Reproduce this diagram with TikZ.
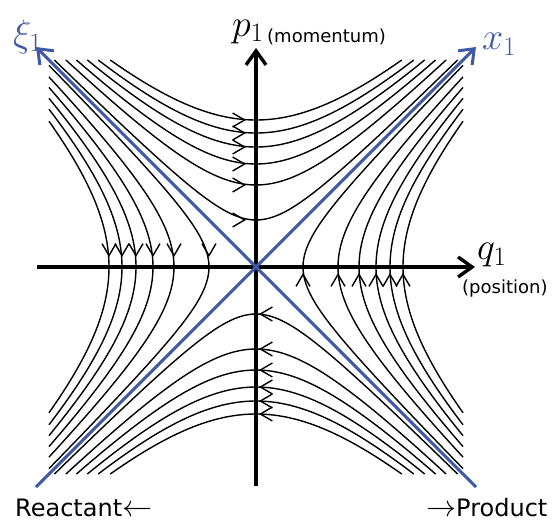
\RequirePackage{fix-cm}
\documentclass[tikz,border=0pt]{standalone}
\usepackage{fontspec}
\newfontfamily\labelfont{DejaVu Sans}
\usepackage{tikz}
\usetikzlibrary{arrows.meta,decorations.markings}
\definecolor{axblue}{RGB}{64,88,168}

\tikzset{
  flowtip/.tip={Straight Barb[length=12pt,width=14pt,line width=1.4pt]},
  orbit/.style={line width=1.4pt, smooth, samples=50},
  flow/.style={postaction={decorate}, decoration={markings,
      mark=at position 0.5 with {\pgftransformxshift{-#1}\arrow{flowtip}}}},
  axis/.style={line width=3.4pt, -{Straight Barb[length=14pt,width=20pt]}},
  diag/.style={axblue, line width=3pt, -{Straight Barb[length=13pt,width=20pt]}},
  mathlabel/.style={inner sep=0pt, anchor=base west, font=\fontsize{38}{40}\selectfont},
  textlabel/.style={inner sep=0pt, anchor=base west, font=\labelfont\fontsize{#1}{#1}\selectfont}
}

\begin{document}
\begin{tikzpicture}[x=10pt, y=10pt]
    \useasboundingbox (-25.6,-25.6) rectangle (29.7,26.7);

    % trajectories p^2-q^2=const, cut at the square |q|,|p|<=20.7
    \foreach \a in {4.7,8.2,10.3,12.0,13.4,14.7} {
      \pgfmathsetmacro{\s}{sqrt(20.7*20.7-\a*\a)}
      \draw[orbit, flow=10pt] plot[domain=-\s:\s] ({\x},{sqrt(\a*\a+\x*\x)});
      \draw[orbit, flow=3pt] plot[domain=-\s:\s] ({-\x},{-sqrt(\a*\a+\x*\x)});
      \draw[orbit, flow=10pt] plot[domain=-\s:\s] ({-sqrt(\a*\a+\x*\x)},{-\x});
      \draw[orbit, flow=6pt] plot[domain=-\s:\s] ({sqrt(\a*\a+\x*\x)},{\x});
    }

    \coordinate (qL) at (-21.9,0);
    \coordinate (qR) at (21.9,0);
    \coordinate (pB) at (0,-21.9);
    \coordinate (pT) at (0,21.9);
    \coordinate (xL) at (-22,-22);
    \coordinate (xR) at (22,22);
    \coordinate (xiR) at (22,-22);
    \coordinate (xiL) at (-22,22);

    \draw[axis] (qL) -- (qR);
    \draw[axis] (pB) -- (pT);
    \draw[diag] (xL) -- (xR);
    \draw[diag] (xiR) -- (xiL);

    \node[mathlabel, axblue] (xilab) at (-24.3,22.1) {$\xi_1$};
    \node[mathlabel, axblue] (xlab) at (22.6,21.75) {$x_1$};
    \node[mathlabel] (plab) at (-2.4,23.1) {$p_1$};
    \node[textlabel=18pt] (mom) at (1.1,22.5) {(momentum)};
    \node[mathlabel] (qlab) at (22.1,0.77) {$q_1$};
    \node[textlabel=18pt] (pos) at (20.6,-2.6) {(position)};
    \node[textlabel=24pt] (react) at (-24.1,-24.9) {Reactant{\fontsize{30}{30}\selectfont$\leftarrow$}};
    \node[textlabel=24pt] (prod) at (17.0,-24.9) {{\fontsize{30}{30}\selectfont$\rightarrow$}Product};
\end{tikzpicture}
\end{document}
